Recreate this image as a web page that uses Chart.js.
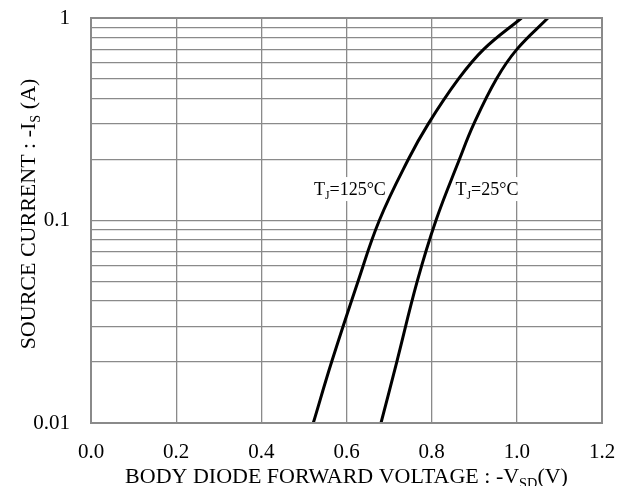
<!DOCTYPE html>
<html>
<head>
<meta charset="utf-8">
<script src="https://cdn.jsdelivr.net/npm/chart.js@4"></script>
<style>
    html, body { margin: 0; padding: 0; background: #fff; }
    #wrap { width: 623px; height: 486px; position: relative; }
</style>
</head>
<body>
<div id="wrap"><canvas id="chart"></canvas></div>
<script>
// forward current levels (A)
const currentLevels = [0.01, 0.02, 0.05, 0.1, 0.2, 0.3, 0.5, 0.7, 1];
// forward voltage at each level (V)
const vsd125 = [0.522, 0.565, 0.627, 0.677, 0.745, 0.792, 0.863, 0.922, 1.011];
const vsd25 = [0.681, 0.718, 0.766, 0.810, 0.865, 0.899, 0.952, 1.000, 1.073];

const xTicks = [0, 0.2, 0.4, 0.6, 0.8, 1.0, 1.2];
const yGrid = [0.01, 0.02, 0.03, 0.04, 0.05, 0.06, 0.07, 0.08, 0.09,
               0.1, 0.2, 0.3, 0.4, 0.5, 0.6, 0.7, 0.8, 0.9, 1];
const yLabels = { 0.01: '0.01', 0.1: '0.1', 1: '1' };

// curve labels: [main, subscript, rest, voltage, current]
const curveLabels = [
    ['T', 'J', '=125°C', 0.608, 0.143],
    ['T', 'J', '=25°C', 0.930, 0.143]
];

const FONT = '"Liberation Serif", "Times New Roman", serif';
const GRID = '#8a8a8a';

const toPoints = (xs) => xs.map((v, i) => ({ x: v, y: currentLevels[i] }));

// draws text pieces, some as subscripts, centered on x
function drawRich(ctx, parts, x, y, size) {
    let total = 0;
    parts.forEach(p => {
        ctx.font = `${p.sub ? size * 0.65 : size}px ${FONT}`;
        p.w = ctx.measureText(p.t).width;
        total += p.w;
    });
    let cx = x - total / 2;
    parts.forEach(p => {
        ctx.font = `${p.sub ? size * 0.65 : size}px ${FONT}`;
        ctx.fillText(p.t, cx, p.sub ? y + size * 0.22 : y);
        cx += p.w;
    });
    return total;
}

// keep the plot box where the reference has it
const fixBox = (size) => (scale) => {
    if (scale.isHorizontal()) scale.height = size; else scale.width = size;
    scale.paddingTop = scale.paddingBottom = scale.paddingLeft = scale.paddingRight = 0;
};

const decorPlugin = {
    id: 'decor',
    beforeDatasetsDraw(chart) {
        const { ctx, scales } = chart;
        ctx.save();
        ctx.textBaseline = 'alphabetic';
        curveLabels.forEach(l => {
            const px = scales.x.getPixelForValue(l[3]);
            const py = scales.y.getPixelForValue(l[4]);
            const parts = [{ t: l[0] }, { t: l[1], sub: true }, { t: l[2] }];
            let w = 0;
            parts.forEach(p => {
                ctx.font = `${p.sub ? 18 * 0.65 : 18}px ${FONT}`;
                w += ctx.measureText(p.t).width;
            });
            ctx.fillStyle = '#fff';
            ctx.fillRect(px - w / 2 - 1, py - 12, w + 2, 24);
            ctx.fillStyle = '#000';
            drawRich(ctx, parts, px, py + 6, 18);
        });
        ctx.restore();
    },
    afterDraw(chart) {
        const { ctx, chartArea: a } = chart;
        ctx.save();
        ctx.strokeStyle = GRID;
        ctx.lineWidth = 2;
        ctx.strokeRect(a.left, a.top, a.right - a.left, a.bottom - a.top);

        ctx.fillStyle = '#000';
        ctx.textBaseline = 'alphabetic';
        drawRich(ctx, [
            { t: 'BODY DIODE FORWARD VOLTAGE : -V' },
            { t: 'SD', sub: true },
            { t: '(V)' }
        ], (a.left + a.right) / 2, 483, 22);

        ctx.translate(35, 214);
        ctx.rotate(-Math.PI / 2);
        drawRich(ctx, [
            { t: 'SOURCE CURRENT : -I' },
            { t: 'S', sub: true },
            { t: ' (A)' }
        ], 0, 0, 22);
        ctx.restore();
    }
};

const lineStyle = {
    borderColor: '#000',
    borderWidth: 3,
    pointRadius: 0,
    showLine: true,
    tension: 0.4,
    fill: false
};

new Chart(document.getElementById('chart'), {
    type: 'scatter',
    data: {
        datasets: [
            { label: 'TJ=125°C', data: toPoints(vsd125), ...lineStyle },
            { label: 'TJ=25°C', data: toPoints(vsd25), ...lineStyle }
        ]
    },
    options: {
        responsive: true,
        maintainAspectRatio: false,
        animation: false,
        layout: { padding: { top: 18, right: 21, left: 0, bottom: 0 } },
        plugins: {
            legend: { display: false },
            tooltip: { enabled: false }
        },
        scales: {
            x: {
                type: 'linear',
                min: 0,
                max: 1.2,
                afterFit: fixBox(63),
                afterBuildTicks: (scale) => { scale.ticks = xTicks.map(v => ({ value: v })); },
                ticks: {
                    padding: 17,
                    color: '#000',
                    font: { family: FONT, size: 21 },
                    callback: (v) => Number(v).toFixed(1)
                },
                grid: { color: GRID, lineWidth: 1.3, drawTicks: false },
                border: { display: false }
            },
            y: {
                type: 'logarithmic',
                min: 0.01,
                max: 1,
                afterFit: fixBox(91),
                afterBuildTicks: (scale) => { scale.ticks = yGrid.map(v => ({ value: v })); },
                ticks: {
                    padding: 21,
                    color: '#000',
                    font: { family: FONT, size: 21 },
                    autoSkip: false,
                    callback: (v) => yLabels[v] || ''
                },
                grid: { color: GRID, lineWidth: 1.3, drawTicks: false },
                border: { display: false }
            }
        }
    },
    plugins: [decorPlugin]
});
</script>
</body>
</html>
